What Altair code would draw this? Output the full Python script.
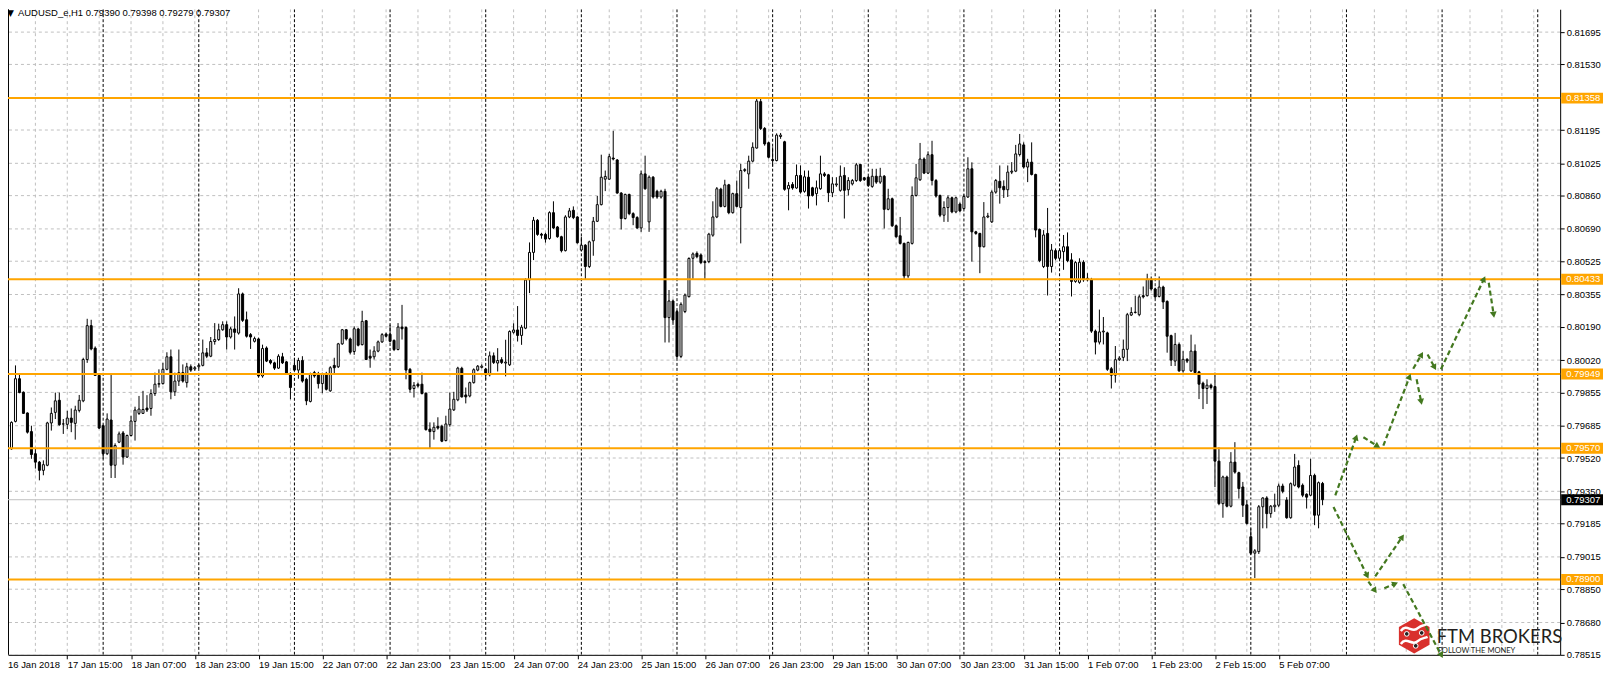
import math
import json
import altair as alt
import pandas as pd

# ---------------- data (prices in points, 1 point = 0.00001) ----------------
OPEN = [
79626, 79596, 79567, 79707, 79925, 79856, 79750, 79655, 79542, 79499,
79457, 79483, 79699, 79753, 79815, 79694, 79692, 79724, 79697, 79763,
79812, 80023, 80196, 80081, 79942, 79685, 79542, 79714, 79483, 79601,
79648, 79525, 79635, 79707, 79748, 79748, 79775, 79773, 79849, 79897,
79900, 79973, 80037, 79858, 79913, 79956, 79905, 79986, 79975, 79986,
79993, 80057, 80040, 80115, 80125, 80175, 80201, 80138, 80179, 80158,
80358, 80226, 80150, 80116, 80128, 79939, 80082, 80018, 80006, 79979,
80037, 80011, 79952, 79993, 79969, 80018, 79922, 79809, 79956, 79951,
79900, 79952, 79863, 79993, 79986, 80103, 80175, 80128, 80064, 80179,
80099, 80221, 80040, 80037, 80066, 80113, 80153, 80152, 80121, 80074,
80189, 80187, 79973, 79875, 79897, 79897, 79851, 79668, 79655, 79682,
79682, 79609, 79690, 79766, 79817, 79978, 79842, 79837, 79905, 79969,
79983, 79974, 79945, 80042, 80005, 80022, 80005, 79996, 80162, 80174,
80146, 80183, 80430, 80570, 80734, 80663, 80662, 80641, 80773, 80700,
80650, 80579, 80751, 80785, 80751, 80582, 80607, 80498, 80629, 80729,
80814, 80944, 80944, 81052, 81042, 80873, 80743, 80866, 80768, 80748,
80695, 80971, 80726, 80954, 80882, 80853, 80882, 80237, 80322, 80268,
80039, 80268, 80344, 80540, 80565, 80557, 80523, 80523, 80658, 80751,
80893, 80805, 80915, 80773, 80870, 80799, 80988, 80971, 81036, 81103,
81340, 81203, 81130, 81044, 81039, 81162, 81135, 80895, 80917, 80899,
80963, 80882, 80954, 80900, 80870, 80895, 80971, 80966, 80875, 80915,
80887, 80963, 80890, 80920, 80937, 81019, 80951, 80954, 80907, 80959,
80929, 80959, 80790, 80844, 80706, 80655, 80616, 80450, 80616, 80861,
80941, 81047, 80975, 81069, 80937, 80861, 80760, 80799, 80849, 80777,
80817, 80794, 80853, 80997, 80675, 80667, 80599, 80751, 80726, 80878,
80933, 80907, 80890, 80980, 80985, 81070, 81119, 81006, 81031, 80968,
80687, 80498, 80667, 80498, 80579, 80540, 80574, 80599, 80532, 80422,
80417, 80520, 80438, 80430, 80168, 80112, 80164, 80159, 79976, 79943,
80022, 80034, 80075, 80250, 80263, 80252, 80349, 80349, 80433, 80383,
80345, 80393, 80320, 80145, 80015, 80100, 79965, 80024, 79965, 80066,
79960, 79902, 79875, 79892, 79885, 79504, 79287, 79423, 79274, 79499,
79445, 79372, 79281, 79118, 79034, 79042, 79271, 79316, 79236, 79271,
79279, 79377, 79305, 79215, 79381, 79482, 79381, 79335, 79330, 79431,
79228, 79390]

HIGH = [
79643, 79601, 79707, 79993, 79947, 79860, 79753, 79685, 79567, 79505,
79508, 79705, 79778, 79854, 79854, 79719, 79761, 79773, 79787, 79842,
80032, 80231, 80226, 80090, 79947, 79690, 79748, 79951, 79595, 79655,
79658, 79640, 79736, 79782, 79837, 79863, 79841, 79871, 79956, 79973,
80006, 80060, 80074, 79956, 80074, 79998, 80006, 79998, 79990, 80000,
80125, 80082, 80138, 80209, 80206, 80218, 80218, 80190, 80243, 80387,
80365, 80268, 80158, 80140, 80135, 80099, 80090, 80025, 80012, 80050,
80057, 80015, 79958, 80032, 80032, 80040, 79930, 79956, 79965, 79960,
79956, 79960, 79989, 80032, 80108, 80179, 80179, 80135, 80192, 80185,
80272, 80225, 80074, 80091, 80120, 80158, 80160, 80201, 80125, 80209,
80302, 80192, 79980, 79908, 79905, 79956, 79855, 79702, 79702, 79728,
79690, 79736, 79854, 79858, 79986, 79986, 79880, 79910, 79978, 79995,
79998, 79980, 80064, 80059, 80081, 80035, 80124, 80172, 80208, 80296,
80200, 80438, 80621, 80751, 80740, 80670, 80670, 80780, 80831, 80705,
80655, 80760, 80797, 80805, 80755, 80650, 80612, 80630, 80751, 80858,
81069, 80988, 81073, 81191, 81047, 80878, 80870, 80870, 80775, 80755,
80988, 81064, 80963, 80960, 80890, 80890, 80895, 80378, 80330, 80275,
80315, 80360, 80545, 80570, 80575, 80565, 80530, 80670, 80831, 80904,
80900, 80941, 80920, 80875, 80937, 81022, 81000, 81064, 81132, 81358,
81360, 81210, 81135, 81107, 81178, 81180, 81140, 80929, 80929, 81019,
81014, 80988, 80988, 80905, 80937, 81064, 80980, 80971, 80954, 80954,
81014, 81005, 80954, 80945, 81027, 81022, 80954, 80960, 80997, 80997,
81002, 80965, 80895, 80850, 80712, 80751, 80620, 80625, 80907, 81022,
81129, 81055, 81086, 81140, 80945, 80865, 80831, 80861, 80855, 80855,
80825, 80866, 81056, 81030, 80680, 80670, 80827, 80772, 80887, 80945,
81014, 80938, 81014, 81031, 81119, 81175, 81132, 81048, 81132, 80972,
80692, 80684, 80797, 80613, 80590, 80590, 80659, 80672, 80566, 80525,
80540, 80530, 80464, 80440, 80176, 80278, 80240, 80165, 79985, 80092,
80040, 80125, 80261, 80290, 80349, 80354, 80396, 80461, 80447, 80390,
80447, 80400, 80325, 80150, 80159, 80110, 80066, 80030, 80150, 80100,
79965, 79910, 79922, 79900, 79956, 79575, 79430, 79430, 79550, 79601,
79450, 79398, 79305, 79161, 79055, 79280, 79320, 79325, 79280, 79338,
79389, 79389, 79320, 79395, 79541, 79508, 79390, 79340, 79516, 79440,
79400, 79398]

LOW = [
79570, 79537, 79562, 79702, 79851, 79745, 79645, 79516, 79466, 79406,
79432, 79478, 79660, 79719, 79685, 79643, 79668, 79652, 79614, 79753,
79805, 80006, 80070, 79939, 79668, 79516, 79535, 79418, 79418, 79596,
79486, 79520, 79630, 79609, 79740, 79745, 79755, 79736, 79837, 79880,
79895, 79968, 79820, 79837, 79888, 79905, 79880, 79960, 79965, 79978,
79988, 80030, 80035, 80099, 80118, 80170, 80074, 80130, 80074, 80150,
80215, 80135, 80077, 80110, 79930, 79930, 80010, 79998, 79970, 79975,
80000, 79945, 79820, 79960, 79925, 79905, 79790, 79804, 79930, 79875,
79851, 79865, 79858, 79947, 79980, 80098, 80120, 80049, 80047, 80090,
80095, 80020, 79981, 80023, 80060, 80108, 80135, 80110, 80066, 80070,
80125, 79922, 79854, 79829, 79880, 79845, 79660, 79567, 79614, 79665,
79601, 79605, 79680, 79760, 79810, 79829, 79799, 79830, 79900, 79963,
79978, 79920, 79937, 80000, 79962, 80000, 79937, 79990, 80155, 80115,
80098, 80178, 80362, 80531, 80655, 80640, 80620, 80635, 80690, 80645,
80570, 80575, 80745, 80740, 80615, 80575, 80430, 80490, 80553, 80725,
80810, 80883, 80940, 81040, 80870, 80687, 80738, 80760, 80709, 80690,
80675, 80890, 80675, 80845, 80844, 80845, 80110, 80110, 80200, 80030,
80030, 80260, 80340, 80435, 80540, 80510, 80435, 80515, 80650, 80745,
80800, 80800, 80765, 80768, 80800, 80616, 80980, 80895, 81030, 81100,
81195, 81115, 81050, 81008, 81035, 81150, 80885, 80785, 80890, 80895,
80870, 80875, 80794, 80855, 80810, 80890, 80955, 80827, 80853, 80905,
80880, 80743, 80861, 80912, 80930, 80930, 80935, 80905, 80900, 80920,
80920, 80692, 80785, 80700, 80645, 80610, 80430, 80440, 80610, 80855,
80935, 80970, 80970, 80912, 80850, 80750, 80726, 80726, 80770, 80770,
80775, 80790, 80848, 80523, 80660, 80464, 80595, 80745, 80720, 80870,
80819, 80848, 80853, 80970, 80980, 81060, 80998, 80929, 80963, 80647,
80520, 80490, 80350, 80467, 80530, 80530, 80481, 80520, 80345, 80415,
80410, 80420, 80422, 80159, 80049, 80100, 80100, 79965, 79875, 79905,
80015, 80015, 80015, 80245, 80258, 80244, 80335, 80345, 80375, 80335,
80340, 80281, 80058, 79990, 79990, 79960, 79956, 80005, 79960, 79950,
79821, 79770, 79796, 79870, 79372, 79279, 79215, 79268, 79268, 79440,
79313, 79219, 79180, 79025, 78907, 79030, 79161, 79161, 79215, 79245,
79270, 79340, 79210, 79210, 79375, 79365, 79320, 79262, 79325, 79177,
79161, 79279]

CLOSE = [
79584, 79570, 79702, 79925, 79854, 79748, 79652, 79538, 79499, 79457,
79486, 79699, 79748, 79812, 79690, 79694, 79724, 79702, 79765, 79815,
80023, 80196, 80077, 79942, 79673, 79542, 79719, 79483, 79584, 79643,
79525, 79635, 79709, 79765, 79770, 79768, 79765, 79849, 79897, 79900,
79973, 80037, 79858, 79913, 79956, 79913, 79986, 79969, 79981, 79993,
80057, 80040, 80115, 80125, 80175, 80201, 80138, 80179, 80162, 80358,
80223, 80142, 80138, 80130, 79939, 80079, 80015, 80006, 79979, 80040,
80006, 79951, 79880, 79969, 80018, 79913, 79812, 79947, 79939, 79900,
79947, 79871, 79981, 79981, 80103, 80175, 80128, 80060, 80180, 80096,
80218, 80023, 80030, 80066, 80113, 80150, 80142, 80116, 80074, 80189,
80180, 79969, 79871, 79891, 79888, 79849, 79665, 79655, 79677, 79673,
79606, 79694, 79770, 79820, 79979, 79832, 79832, 79905, 79971, 79989,
79989, 79945, 80042, 80008, 80018, 80008, 80010, 80166, 80174, 80146,
80188, 80429, 80570, 80734, 80662, 80658, 80638, 80773, 80695, 80650,
80579, 80751, 80782, 80748, 80619, 80607, 80498, 80624, 80729, 80814,
80954, 80958, 81059, 81047, 80873, 80743, 80866, 80768, 80748, 80695,
80971, 80895, 80954, 80853, 80853, 80882, 80237, 80322, 80225, 80039,
80305, 80352, 80539, 80562, 80548, 80518, 80518, 80663, 80751, 80895,
80805, 80915, 80773, 80870, 80805, 80988, 80993, 81036, 81107, 81343,
81203, 81124, 81056, 81039, 81169, 81169, 80892, 80912, 80899, 80963,
80878, 80956, 80858, 80861, 80900, 80971, 80963, 80875, 80920, 80920,
80959, 80887, 80937, 80937, 81017, 80937, 80941, 80912, 80959, 80929,
80959, 80790, 80844, 80706, 80650, 80616, 80450, 80621, 80861, 80951,
81047, 80975, 81069, 80937, 80858, 80760, 80799, 80849, 80777, 80849,
80782, 80856, 80997, 80675, 80667, 80599, 80751, 80756, 80878, 80937,
80900, 80890, 80980, 80985, 81073, 81124, 81006, 81031, 80968, 80684,
80528, 80659, 80498, 80582, 80540, 80579, 80599, 80528, 80422, 80518,
80520, 80430, 80430, 80168, 80112, 80164, 80168, 79973, 79943, 80022,
80030, 80075, 80252, 80263, 80265, 80343, 80343, 80433, 80383, 80343,
80393, 80317, 80142, 80020, 80100, 79965, 80024, 80015, 80066, 79956,
79897, 79875, 79892, 79880, 79504, 79287, 79423, 79274, 79499, 79448,
79364, 79279, 79186, 79034, 79046, 79271, 79316, 79236, 79274, 79279,
79377, 79350, 79215, 79389, 79474, 79372, 79330, 79320, 79431, 79228,
79394, 79307]

X_LABELS = ["16 Jan 2018", "17 Jan 15:00", "18 Jan 07:00", "18 Jan 23:00", "19 Jan 15:00",
            "22 Jan 07:00", "22 Jan 23:00", "23 Jan 15:00", "24 Jan 07:00", "24 Jan 23:00",
            "25 Jan 15:00", "26 Jan 07:00", "26 Jan 23:00", "29 Jan 15:00", "30 Jan 07:00",
            "30 Jan 23:00", "31 Jan 15:00", "1 Feb 07:00", "1 Feb 23:00", "2 Feb 15:00",
            "5 Feb 07:00"]
BARS_PER_LABEL = 16
DAY_START_BARS = [1 + 24 * k for k in range(17)]      # first hourly bar of each trading day
GRID_BARS = [8 * k for k in range(1, 49)]

Y_LABELS = [0.81695, 0.81530, 0.81195, 0.81025, 0.80860, 0.80690, 0.80525, 0.80355,
            0.80190, 0.80020, 0.79855, 0.79685, 0.79520, 0.79350, 0.79185, 0.79015,
            0.78850, 0.78680, 0.78515]
Y_GRID = Y_LABELS + [0.81360]
LEVELS = [0.81358, 0.80433, 0.79949, 0.79570, 0.78900]
LAST_PRICE = 0.79307
HEADER = "AUDUSD_e,H1  0.79390 0.79398 0.79279 0.79307"

# projected paths (bar index, price in points)
ARROW_J1 = [334.2, 341.25, 346.25, 353.75, 354.6, 357.35, 360.7, 372.7, 333.75, 344.2, 342.5, 346.5, 351.25]
ARROW_P1 = [79329, 79626, 79583, 79976, 79922, 80049, 79973, 80415, 79270, 78915, 78889, 78855, 78876]
ARROW_J2 = [339.35, 344.6, 352.75, 355.7, 355.7, 359.0, 371.4, 373.9, 342.1, 350.85, 344.0, 349.0, 360.7]
ARROW_P2 = [79621, 79583, 79931, 80044, 79812, 79987, 80430, 80257, 78923, 79113, 78847, 78876, 78517]

# ---------------- layout ----------------
W, H = 1558, 648
X_DOM = [1.125, 390.625]
Y_DOM = [0.78515, 0.818118]
FONT = "Liberation Sans"
GREEN = "#43781f"
ORANGE = "#ffa500"
GRAY = "#c0c0c0"

XS = alt.Scale(domain=X_DOM, nice=False, zero=False)
YS = alt.Scale(domain=Y_DOM, nice=False, zero=False)

label_expr = json.dumps(X_LABELS) + "[round(datum.value / %d)]" % BARS_PER_LABEL
AX_X = alt.Axis(values=[BARS_PER_LABEL * k for k in range(1, len(X_LABELS))],
                labelExpr=label_expr, title=None, grid=False, tickSize=4, labelPadding=1,
                labelAlign="left", labelBaseline="top", labelFont=FONT, labelFontSize=9.5,
                labelColor="black", tickColor="black", domainColor="black",
                labelOverlap=False, labelFlush=False)
AX_Y = alt.Axis(orient="right", values=Y_LABELS, format=".5f", title=None, grid=False,
                tickSize=4, labelPadding=2, labelFont=FONT, labelFontSize=9.5,
                labelColor="black", tickColor="black", domainColor="black",
                labelOverlap=False, labelFlush=False, labelBaseline="middle")

n = min(len(OPEN), len(HIGH), len(LOW), len(CLOSE))
candles = pd.DataFrame({
    "j": list(range(n)),
    "open": [v / 1e5 for v in OPEN[:n]],
    "high": [v / 1e5 for v in HIGH[:n]],
    "low": [v / 1e5 for v in LOW[:n]],
    "close": [v / 1e5 for v in CLOSE[:n]],
})
candles["x1"] = candles["j"] - 0.25
candles["x2"] = candles["j"] + 0.25

x_px_per_bar = W / (X_DOM[1] - X_DOM[0])
y_px_per_unit = H / (Y_DOM[1] - Y_DOM[0])
arrows = pd.DataFrame({
    "j1": ARROW_J1, "j2": ARROW_J2,
    "p1": [v / 1e5 for v in ARROW_P1], "p2": [v / 1e5 for v in ARROW_P2],
})
arrows["ang"] = [
    math.degrees(math.atan2((b - a) * x_px_per_bar, (q - p) / 1e5 * y_px_per_unit)) % 360
    for a, b, p, q in zip(ARROW_J1, ARROW_J2, ARROW_P1, ARROW_P2)
]

# ---------------- layers ----------------
vgrid = alt.Chart(pd.DataFrame({"j": GRID_BARS})).mark_rule(
    color=GRAY, strokeWidth=1, strokeDash=[3, 3], clip=True
).encode(x=alt.X("j:Q", scale=XS, axis=AX_X))

hgrid = alt.Chart(pd.DataFrame({"p": Y_GRID})).mark_rule(
    color=GRAY, strokeWidth=1, strokeDash=[3, 3], clip=True
).encode(y=alt.Y("p:Q", scale=YS, axis=AX_Y))

days = alt.Chart(pd.DataFrame({"j": DAY_START_BARS})).mark_rule(
    color="black", strokeWidth=1, strokeDash=[3, 2], clip=True
).encode(x=alt.X("j:Q", scale=XS, axis=AX_X))

left_border = alt.Chart(alt.Data(values=[{}])).mark_rule(color="black", strokeWidth=1).encode(
    x=alt.value(0.5), y=alt.value(0), y2=alt.value(H))

last_line = alt.Chart(pd.DataFrame({"p": [LAST_PRICE]})).mark_rule(
    color=GRAY, strokeWidth=1
).encode(y=alt.Y("p:Q", scale=YS, axis=AX_Y))

wicks = alt.Chart(candles).mark_rule(color="black", strokeWidth=1, clip=True).encode(
    x=alt.X("j:Q", scale=XS, axis=AX_X),
    y=alt.Y("low:Q", scale=YS, axis=AX_Y),
    y2="high:Q",
)

bodies = alt.Chart(candles).mark_rect(stroke="black", strokeWidth=1, clip=True).encode(
    x=alt.X("x1:Q", scale=XS, axis=AX_X),
    x2="x2:Q",
    y=alt.Y("open:Q", scale=YS, axis=AX_Y),
    y2="close:Q",
    fill=alt.condition("datum.close >= datum.open", alt.value("white"), alt.value("black")),
)

levels = alt.Chart(pd.DataFrame({"p": LEVELS})).mark_rule(
    color=ORANGE, strokeWidth=2
).encode(y=alt.Y("p:Q", scale=YS, axis=AX_Y))

arrow_lines = alt.Chart(arrows).mark_rule(
    color=GREEN, strokeWidth=2.2, strokeDash=[5, 3], clip=True
).encode(
    x=alt.X("j1:Q", scale=XS, axis=AX_X), x2="j2:Q",
    y=alt.Y("p1:Q", scale=YS, axis=AX_Y), y2="p2:Q",
)

arrow_heads = alt.Chart(arrows).mark_point(
    shape="triangle", filled=True, size=48, color=GREEN, opacity=1
).encode(
    x=alt.X("j2:Q", scale=XS, axis=AX_X),
    y=alt.Y("p2:Q", scale=YS, axis=AX_Y),
    angle=alt.Angle("ang:Q", scale=None),
)

# logo
one = alt.Data(values=[{}])
HEX = "M0,-1 L0.87,-0.5 L0.87,0.5 L0,1 L-0.87,0.5 L-0.87,-0.5 Z"
WAVE = "M-0.95,0.15 C-0.55,-0.45 -0.15,0.35 0.25,-0.05 C0.5,-0.3 0.75,-0.25 0.95,-0.35"
logo_hex = alt.Chart(one).mark_point(shape=HEX, filled=True, size=1250, color="#d9302c", opacity=1).encode(
    x=alt.value(1411.5), y=alt.value(629))
logo_w1 = alt.Chart(one).mark_point(shape=WAVE, filled=False, size=800, stroke="white", strokeWidth=2.5, opacity=1).encode(
    x=alt.value(1411.5), y=alt.value(622))
logo_w2 = alt.Chart(one).mark_point(shape=WAVE, filled=False, size=800, stroke="white", strokeWidth=2.5, opacity=1).encode(
    x=alt.value(1411.5), y=alt.value(635))
logo_dots = [
    alt.Chart(one).mark_circle(size=22, color="#222222", stroke="white", strokeWidth=1, opacity=1).encode(
        x=alt.value(dx), y=alt.value(dy))
    for dx, dy in [(1404, 627), (1419, 626), (1413, 639)]
]
logo_t1 = alt.Chart(one).mark_text(
    text="FTM BROKERS", font="Lato", fontSize=18.5, color="#231f20", align="left", baseline="alphabetic"
).encode(x=alt.value(1434), y=alt.value(636))
logo_t2 = alt.Chart(one).mark_text(
    text="FOLLOW THE MONEY", font="Lato", fontSize=7.6, color="#231f20", align="left", baseline="alphabetic"
).encode(x=alt.value(1435), y=alt.value(646))

header_tri = alt.Chart(one).mark_text(
    text="▼", font="DejaVu Sans", fontSize=9, color="black", align="left", baseline="alphabetic"
).encode(x=alt.value(-1), y=alt.value(7))
header = alt.Chart(one).mark_text(
    text=HEADER, font=FONT, fontSize=9.5, color="black", align="left", baseline="alphabetic"
).encode(x=alt.value(10), y=alt.value(7))

first_label = alt.Chart(one).mark_text(
    text=X_LABELS[0], font=FONT, fontSize=9.5, color="black", align="left", baseline="top"
).encode(x=alt.value(0), y=alt.value(H + 5))

# price boxes on the right axis
lvl_df = pd.DataFrame({"p": LEVELS, "t": ["%.5f" % v for v in LEVELS]})
lvl_box = alt.Chart(lvl_df).mark_rule(color=ORANGE, strokeWidth=11, strokeCap="butt").encode(
    y=alt.Y("p:Q", scale=YS, axis=AX_Y), x=alt.value(W + 1), x2=alt.value(W + 43))
lvl_txt = alt.Chart(lvl_df).mark_text(font=FONT, fontSize=9.5, color="white", align="left", baseline="middle").encode(
    y=alt.Y("p:Q", scale=YS, axis=AX_Y), x=alt.value(W + 6), text="t:N")
last_df = pd.DataFrame({"p": [LAST_PRICE], "t": ["%.5f" % LAST_PRICE]})
last_box = alt.Chart(last_df).mark_rule(color="black", strokeWidth=11, strokeCap="butt").encode(
    y=alt.Y("p:Q", scale=YS, axis=AX_Y), x=alt.value(W + 1), x2=alt.value(W + 43))
last_txt = alt.Chart(last_df).mark_text(font=FONT, fontSize=9.5, color="white", align="left", baseline="middle").encode(
    y=alt.Y("p:Q", scale=YS, axis=AX_Y), x=alt.value(W + 6), text="t:N")

chart = alt.layer(
    vgrid, hgrid, days, left_border, last_line, wicks, bodies, levels,
    logo_hex, logo_w1, logo_w2, *logo_dots, logo_t1, logo_t2,
    arrow_lines, arrow_heads, header_tri, header, first_label,
    lvl_box, lvl_txt, last_box, last_txt,
).properties(
    width=W, height=H,
    padding={"left": 0, "top": 0, "right": 44, "bottom": 16},
    autosize=alt.AutoSizeParams(type="none"),
    background="white",
).configure_view(stroke=None)

chart.save("out.html", embed_options={"renderer": "svg", "actions": False})
